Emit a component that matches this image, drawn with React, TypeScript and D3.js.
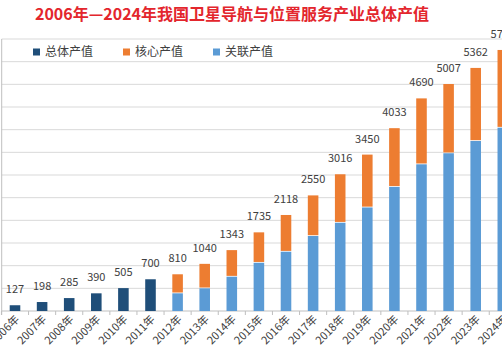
import React from "react";
import * as d3 from "d3";

const years = ["2006年","2007年","2008年","2009年","2010年","2011年","2012年","2013年","2014年","2015年","2016年","2017年","2018年","2019年","2020年","2021年","2022年","2023年","2024年"];
const totalValues = [127,198,285,390,505,700,810,1040,1343,1735,2118,2550,3016,3450,4033,4690,5007,5362,5758];
// 总体产值 series shown only for 2006-2011
const overallSeries = [127,198,285,390,505,700,null,null,null,null,null,null,null,null,null,null,null,null,null];
// 关联产值 (bottom) and 核心产值 (top) for 2012-2024
const relatedSeries = [null,null,null,null,null,null,390,500,757,1064,1308,1654,1947,2284,2738,3236,3480,3751,4044];
const coreSeries = [null,null,null,null,null,null,420,540,586,671,810,896,1069,1166,1295,1454,1527,1611,1714];
const legendItems = ["总体产值","核心产值","关联产值"];
const yTicks = [0,500,1000,1500,2000,2500,3000,3500,4000,4500,5000,5500,6000];
const titleText = "2006年—2024年我国卫星导航与位置服务产业总体产值";

const W = 502, H = 351;
const C_OVERALL = "#1f4e79";
const C_CORE = "#ed7d31";
const C_REL = "#5b9bd5";
const FONT = "'Noto Sans CJK SC', 'Noto Sans', sans-serif";

export default function App() {
  const x = d3.scaleBand<string>().domain(years).range([1.45, 516.35]).paddingInner(0.61).paddingOuter(0.305);
  const y = d3.scaleLinear().domain([0, 6000]).range([311, 39]);
  const bw = x.bandwidth();
  const legendColors = [C_OVERALL, C_CORE, C_REL];
  const legendX = [33, 123, 213];
  return (
    <svg width={W} height={H} style={{ position: "absolute", left: 0, top: 0, background: "#fff" }} fontFamily={FONT}>
      <rect x={0} y={0} width={W} height={H} fill="#fff" />
      <text x={232} y={20} textAnchor="middle" fontSize={16} fontWeight="bold" fill="#e3262d">{titleText}</text>
      {yTicks.map((t) => (
        <line key={t} x1={1.7} x2={W} y1={y(t)} y2={y(t)} stroke={t === 0 ? "#bfbfbf" : "#d9d9d9"} strokeWidth={1} />
      ))}
      <line x1={1.7} x2={1.7} y1={y(6000)} y2={y(0) + 4} stroke="#bfbfbf" strokeWidth={1} />
      {years.map((yr, i) => (
        <line key={"tk" + i} x1={(x(yr) as number) - (x.step() - bw) / 2} x2={(x(yr) as number) - (x.step() - bw) / 2} y1={y(0)} y2={y(0) + 4} stroke="#bfbfbf" />
      ))}
      {legendItems.map((l, i) => (
        <g key={l}>
          <rect x={legendX[i]} y={48.5} width={7} height={7} fill={legendColors[i]} />
          <text x={legendX[i] + 12} y={56} fontSize={12} fill="#404040">{l}</text>
        </g>
      ))}
      {years.map((yr, i) => {
        const bx = x(yr) as number;
        const o = overallSeries[i];
        const r = relatedSeries[i];
        const c = coreSeries[i];
        return (
          <g key={"b" + i}>
            {o != null && <rect x={bx} y={y(o)} width={bw} height={y(0) - y(o)} fill={C_OVERALL} />}
            {r != null && <rect x={bx} y={y(r)} width={bw} height={y(0) - y(r)} fill={C_REL} />}
            {r != null && c != null && (
              <rect x={bx} y={y(r + c)} width={bw} height={y(r) - y(r + c) - 0.8} fill={C_CORE} />
            )}
          </g>
        );
      })}
      {years.map((yr, i) => {
        const cx = (x(yr) as number) + bw / 2;
        return (
          <text key={"v" + i} x={cx} y={y(totalValues[i]) - 12} textAnchor="middle" fontSize={11} fill="#404040">
            {totalValues[i]}
          </text>
        );
      })}
      {years.map((yr, i) => {
        const cx = (x(yr) as number) + bw / 2;
        return (
          <text key={"l" + i} transform={`translate(${cx + 5},${y(0) + 9}) rotate(-45)`} textAnchor="end" fontSize={11} fill="#404040">
            {yr}
          </text>
        );
      })}
    </svg>
  );
}
